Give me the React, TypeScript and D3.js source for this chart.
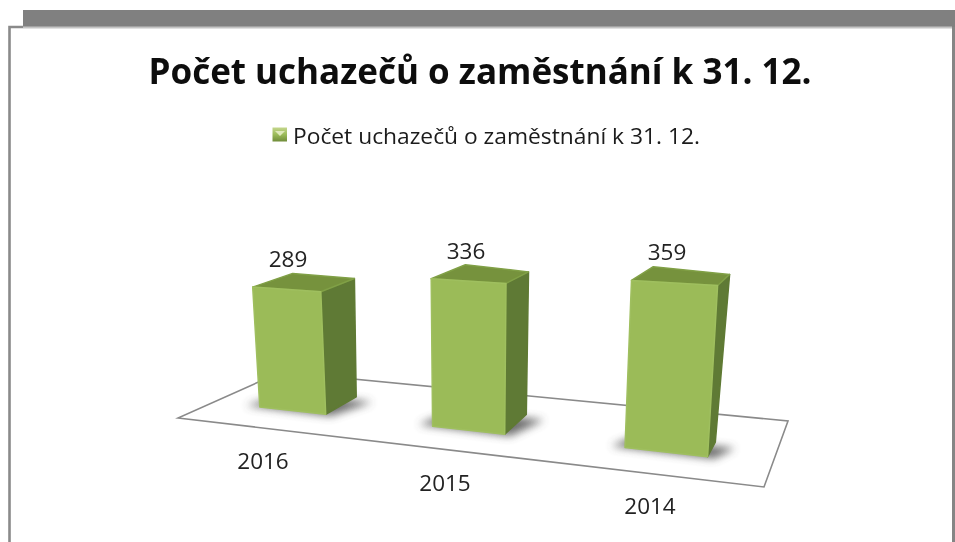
import React from "react";
import * as d3 from "d3";

const title = "Počet uchazečů o zaměstnání k 31. 12.";
const categories = ["2016", "2015", "2014"];
const values = [289, 336, 359];

const W = 955, H = 542;
type P = [number, number];
const FL: P = [178, 418], FR: P = [764, 487], BL: P = [281, 372], BR: P = [788, 421];

// floor position -> picture position
function floor(u: number, v: number): P {
  const a = [FL[0] + (FR[0] - FL[0]) * u, FL[1] + (FR[1] - FL[1]) * u];
  const b = [BL[0] + (BR[0] - BL[0]) * u, BL[1] + (BR[1] - BL[1]) * u];
  return [a[0] + (b[0] - a[0]) * v, a[1] + (b[1] - a[1]) * v];
}
// bar height per unit grows with nearness; verticals lean away from the middle
const kScale = d3.scaleLinear().domain([407, 456]).range([0.415, 0.476]);
function lift(p: P, val: number): P {
  return [p[0] + (p[0] - 470) * 0.000117 * val, p[1] - kScale(p[1]) * val];
}
const idx = [0, 1, 2];
const centerU = d3.scaleLinear().domain(idx).range([0.141, 0.456, 0.81]);
const widthU = d3.scaleLinear().domain(idx).range([0.118, 0.129, 0.148]);
const backV = d3.scaleLinear().domain(idx).range([0.7, 0.7, 0.58]);
const topBackLX = d3.scaleLinear().domain(idx).range([5, 8, 11]);
const topBackLY = d3.scaleLinear().domain(idx).range([-3, -3, -6]);
const topBackRX = d3.scaleLinear().domain(idx).range([2, 0, 4]);
const topBackRY = d3.scaleLinear().domain(idx).range([-2, 0, -3]);
const frontV = 0.35;
const poly = (pts: P[]) => "M" + pts.map(p => p[0].toFixed(1) + "," + p[1].toFixed(1)).join("L") + "Z";

const valX = d3.scaleLinear().domain(idx).range([288, 466, 667]);
const valY = d3.scaleLinear().domain(idx).range([267, 259, 260]);
const catX = d3.scaleLinear().domain(idx).range([263, 445, 650]);
const catY = d3.scaleLinear().domain(idx).range([469, 491, 514]);
const font = "'Open Sans', sans-serif";

export default function App() {
  return (
    <svg width={W} height={H} viewBox={`0 0 ${W} ${H}`} style={{ position: "absolute", left: 0, top: 0, background: "#fff" }}>
      <defs>
        <filter id="soft" x="-5%" y="-5%" width="110%" height="110%"><feGaussianBlur stdDeviation="0.6" /></filter>
        <filter id="shadow" x="-40%" y="-100%" width="180%" height="300%"><feGaussianBlur stdDeviation="4" /></filter>
        <linearGradient id="leg" x1="0" y1="0" x2="0" y2="1">
          <stop offset="0" stopColor="#c4d68c" /><stop offset="0.5" stopColor="#9bbb59" /><stop offset="1" stopColor="#6f8c3a" />
        </linearGradient>
      </defs>
      <g filter="url(#soft)">
        <rect x={23} y={10} width={932} height={17} fill="#808080" />
        <path d={`M23,27.5H952`} fill="none" stroke="#c4c4c4" strokeWidth={2} />
        <path d={`M23,27H9.5V${H}`} fill="none" stroke="#8a8a8a" strokeWidth={2.6} />
        <path d={`M953.5,27V${H}`} fill="none" stroke="#858585" strokeWidth={3} />
        <text x={480} y={84} textAnchor="middle" fontFamily={font} fontWeight={700} fontSize={35} fill="#0a0a0a">{title}</text>
        <rect x={272.5} y={127.5} width={14.5} height={14} fill="url(#leg)" />
        <path d="M275,131H285L280,136Z" fill="#dfe9bb" />
        <text x={293} y={144} fontFamily={font} fontSize={21} fill="#1a1a1a" textLength={407} lengthAdjust="spacingAndGlyphs">{title}</text>
        <path d={poly([FL, FR, BR, BL])} fill="#fff" stroke="#8a8a8a" strokeWidth={1.6} />
        {values.map((val, i) => {
          const u0 = centerU(i) - widthU(i) / 2, u1 = centerU(i) + widthU(i) / 2, v1 = backV(i);
          const a = floor(u0, frontV), b = floor(u1, frontV), c = floor(u1, v1), d = floor(u0, v1);
          const at = lift(a, val), bt = lift(b, val), ct0 = lift(c, val), dt0 = lift(d, val);
          const ct: P = [ct0[0] + topBackRX(i), ct0[1] + topBackRY(i)];
          const dt: P = [dt0[0] + topBackLX(i), dt0[1] + topBackLY(i)];
          const sh: P[] = [floor(u0 - 0.025, frontV + 0.0), floor(u1 + 0.012, frontV - 0.02), floor(u1 + 0.04, v1 - 0.06), floor(u0, v1 - 0.06)];
          return (
            <g key={categories[i]}>
              <path d={poly(sh)} fill="#4a4a4a" opacity={0.8} filter="url(#shadow)" />
              <path d={poly([b, c, ct, bt])} fill="#5f7a34" stroke="#5f7a34" strokeWidth={1.5} strokeLinejoin="round" />
              <path d={poly([at, bt, ct, dt])} fill="#76923c" stroke="#80a046" strokeWidth={1.5} strokeLinejoin="round" />
              <path d={poly([a, b, bt, at])} fill="#9bbb59" stroke="#9fbf5e" strokeWidth={1.5} strokeLinejoin="round" />
              <text x={valX(i)} y={valY(i)} textAnchor="middle" fontFamily={font} fontSize={22.5} fill="#222">{val}</text>
              <text x={catX(i)} y={catY(i)} textAnchor="middle" fontFamily={font} fontSize={22.5} fill="#222">{categories[i]}</text>
            </g>
          );
        })}
      </g>
    </svg>
  );
}
